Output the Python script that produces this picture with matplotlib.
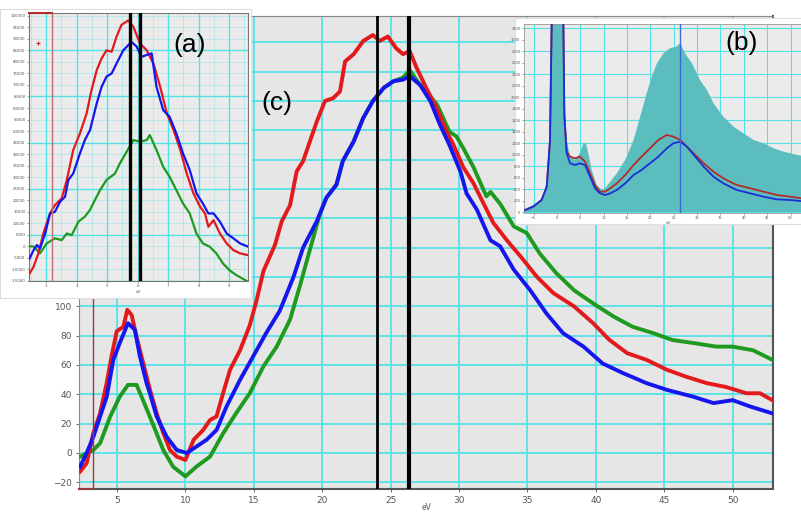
import matplotlib
matplotlib.use("Agg")
import matplotlib.pyplot as plt
import numpy as np

W, H = 801, 512

# ---- main panel (c): three spectra ----
red_ev = [2.3, 2.78, 3.27, 3.76, 4.25, 4.6, 4.98, 5.46, 5.75, 6.07, 6.43, 6.92, 7.41, 7.9, 8.38,
          8.87, 9.36, 10.0, 10.6, 11.3, 11.8, 12.27, 12.76, 13.26, 13.99, 14.7, 15.2, 15.7, 16.55,
          17.04, 17.65, 18.13, 18.6, 19.1, 19.6, 20.2, 20.8, 21.3, 21.67, 22.3, 23.0, 23.7, 24.2,
          24.8, 25.4, 25.9, 26.4, 26.9, 27.6, 28.37, 29.1, 29.6, 30.3, 31.05, 31.8, 32.5, 33.5,
          34.5, 35.7, 36.9, 38.4, 39.8, 41.0, 42.3, 43.7, 45.2, 46.6, 48.1, 49.5, 51.0, 52.0, 52.9]
red_val = [-12.7, -7, 13.6, 27, 48, 66, 83, 86, 97.6, 94, 79, 61, 43, 27, 13.6,
           2, -2.5, -4.8, 9, 15.7, 22.5, 24.8, 41, 56.7, 70, 87, 104, 124, 142,
           158, 169, 192, 199, 212.5, 226, 240, 242, 246.6, 267, 272, 281, 285, 281,
           284, 276, 272, 274, 262.6, 249, 235, 219, 210, 195, 184, 170, 157, 145,
           134, 120, 109, 100, 88.5, 77, 68, 63.5, 56.7, 52, 47.6, 45, 40.7, 40.7, 36]

blue_ev = [2.3, 2.78, 3.27, 3.76, 4.25, 4.73, 5.2, 5.8, 6.3, 6.67, 7.16, 7.4, 7.9, 8.63, 9.36,
           10.1, 10.8, 11.55, 12.28, 13.0, 14.0, 14.96, 15.9, 16.9, 17.9, 18.6, 19.6, 20.3, 21.04,
           21.5, 22.3, 23.0, 23.7, 24.5, 25.2, 25.9, 26.4, 27.15, 27.9, 28.6, 29.3, 30.1, 30.55,
           31.3, 32.3, 33.0, 34.0, 35.2, 36.4, 37.6, 39.1, 40.5, 42.0, 43.7, 45.2, 47.1, 48.6,
           50.0, 51.3, 52.9]
blue_val = [-9.4, 0, 11, 24.8, 38.4, 63.5, 75, 88.5, 84, 66, 47.6, 40.7, 24.8, 11, 2,
            0, 4.3, 9, 15.7, 31.6, 50, 66, 81.7, 97, 120, 140, 158, 174, 183,
            199, 212.5, 228.5, 240, 249, 253.5, 254.6, 257, 251, 240, 224, 210, 192, 177,
            166, 145, 141, 125, 111, 95, 81.7, 72.5, 61, 54.4, 47.6, 43, 38.4, 34,
            36, 31.6, 27]

green_ev = [2.3, 3.27, 3.76, 4.5, 5.2, 5.8, 6.43, 6.9, 7.65, 8.38, 9.1, 10.0, 10.8, 11.8, 12.76,
            13.7, 14.7, 15.7, 16.67, 17.65, 18.4, 18.86, 19.8, 20.3, 21.04, 21.5, 22.3, 23.0, 23.7,
            24.5, 25.2, 25.9, 26.4, 27.0, 28.4, 29.3, 29.8, 30.3, 31.05, 32.0, 32.3, 33.0, 34.0,
            34.95, 35.9, 37.1, 38.4, 39.8, 41.3, 42.7, 44.2, 45.6, 47.1, 48.8, 50.0, 51.5, 52.9]
green_val = [-2.5, 2, 6.6, 24.8, 38.4, 46.4, 46.4, 36, 19, 2, -9.4, -16, -9.4, -2.5, 13.4,
             27, 40.7, 59, 72.5, 91, 115, 130.6, 162, 174, 183, 199, 212.5, 228.5, 240,
             249, 253.5, 256, 261, 253, 237.5, 219, 216, 208, 195, 175, 178, 170, 154.5,
             150, 136, 122.7, 111, 102, 93, 86, 81.7, 77, 75, 72.5, 72.5, 70, 63.5]

main_xticks = [5, 10, 15, 20, 25, 30, 35, 40, 45, 50]
main_yticks = list(range(-20, 300, 20))
main_marks = [23.97, 26.32]
main_marker_ev = 3.27

# ---- inset (a): zoom on the 3-10 eV peak ----
a_red_ev = [2.46, 2.59, 2.75, 2.91, 3.13, 3.29, 3.51, 3.68, 3.89, 4.11, 4.33, 4.49, 4.66, 4.82,
            4.98, 5.15, 5.31, 5.47, 5.69, 5.86, 6.08, 6.3, 6.52, 6.74, 6.96, 7.18, 7.4, 7.61,
            7.83, 8.05, 8.21, 8.32, 8.49, 8.7, 8.92, 9.14, 9.36, 9.62]
a_red_val = [-11700, -8800, -3000, 5600, 14300, 17900, 20800, 28800, 41800, 49000, 57700, 67800,
             76400, 81500, 85000, 84400, 90900, 96000, 98000, 95200, 88000, 85000, 79300, 69200,
             57700, 50400, 41800, 31600, 23000, 17200, 14300, 8500, 11400, 5600, 1300, -1600,
             -3000, -3800]
a_blue_ev = [2.46, 2.59, 2.7, 2.8, 2.97, 3.13, 3.29, 3.46, 3.62, 3.73, 3.89, 4.11, 4.27, 4.44,
             4.66, 4.82, 4.98, 5.15, 5.31, 5.53, 5.8, 5.97, 6.13, 6.3, 6.46, 6.62, 6.84, 7.05,
             7.27, 7.49, 7.71, 7.93, 8.14, 8.32, 8.49, 8.7, 8.92, 9.14, 9.36, 9.62]
a_blue_val = [-5200, -1600, 600, -900, 5600, 14300, 15000, 19400, 21500, 28800, 31600, 40300,
              46100, 50400, 62000, 69200, 73600, 75000, 79300, 85000, 88700, 86600, 82200, 83000,
              83700, 69200, 59100, 56200, 49000, 40300, 33100, 23000, 18600, 14300, 14300, 10700,
              5600, 3500, 1300, -100]
a_green_ev = [2.46, 2.59, 2.8, 3.02, 3.29, 3.51, 3.68, 3.84, 4.06, 4.27, 4.44, 4.6, 4.77, 4.98,
              5.26, 5.42, 5.64, 5.86, 6.08, 6.3, 6.4, 6.62, 6.84, 7.05, 7.27, 7.49, 7.71, 7.93,
              8.14, 8.36, 8.58, 8.8, 9.01, 9.23, 9.62]
a_green_val = [0, 0, -3000, 1300, 3500, 2700, 5600, 4900, 10700, 12900, 15800, 20100, 24400,
               28800, 31600, 36000, 41000, 46100, 45400, 46100, 48300, 41800, 34500, 30200,
               24400, 18600, 14300, 5600, 1300, -100, -3000, -7400, -10300, -12400, -15300]
a_marks = [5.75, 6.08]
a_marker_ev = 3.19
a_yticks = list(range(-15000, 100001, 5000))
a_xticks = [3, 4, 5, 6, 7, 8, 9]

# ---- inset (b): full spectrum, sum (teal fill) and two single spectra ----
b_sum_ev = [-7.2, -4.4, -2.9, -1.86, -1.4, -1.1, 0.0, 1.3, 1.6, 2.07, 2.8, 3.86, 4.9, 5.64,
            6.2, 6.7, 7.43, 8.5, 9.57, 10.3, 11.4, 12.8, 14.6, 16.4, 17.8, 19.2, 20.3, 21.4, 22.8,
            24.2, 25.6, 26.4, 27.4, 28.9, 30.6, 32.1, 33.5, 35.6, 37.8, 39.9, 42.1, 44.2, 46.4,
            48.5, 51.4, 54.5]
b_sum_val = [35, 151, 267, 673, 1400, 3400, 20000, 3400, 1950, 1253, 963, 905, 1020, 1195,
             1195, 1020, 731, 470, 383, 412, 528, 673, 905, 1253, 1659, 2065, 2355, 2587, 2761,
             2848, 2877, 2935, 2761, 2587, 2297, 2123, 1891, 1659, 1485, 1369, 1253, 1195, 1108,
             1050, 992, 950]
b_blue_ev = [-7.2, -5.1, -3.3, -2.2, -1.5, -1.14, 0.0, 1.36, 1.57, 2.07, 2.8, 3.86, 4.9, 6.0,
             7.07, 8.14, 9.2, 10.3, 11.4, 12.8, 14.6, 16.4, 18.1, 19.9, 21.7, 23.5, 24.9, 26.4,
             27.8, 29.6, 31.4, 33.5, 35.6, 38.5, 41.4, 44.2, 47.1, 49.9, 52.3, 54.5]
b_blue_val = [23, 93, 209, 441, 1253, 3300, 20000, 3300, 1659, 1020, 847, 818, 847, 818, 615,
              412, 325, 296, 325, 383, 499, 644, 731, 847, 963, 1108, 1195, 1224, 1137, 963,
              789, 615, 499, 383, 325, 267, 220, 209, 191, 180]
b_red_ev = [-7.2, -5.1, -3.3, -2.2, -1.5, -1.14, 0.0, 1.36, 1.57, 2.07, 2.8, 3.86, 4.9, 6.0,
            7.07, 8.14, 9.2, 10.3, 11.4, 12.8, 14.6, 16.4, 18.1, 19.9, 21.7, 23.5, 24.9, 26.4,
            27.8, 29.6, 31.4, 33.5, 35.6, 38.5, 41.4, 44.2, 47.1, 49.9, 52.3, 54.5]
b_red_val = [23, 93, 209, 441, 1253, 3300, 20000, 3300, 1700, 1050, 963, 934, 963, 876, 673,
             470, 354, 354, 412, 499, 644, 818, 963, 1108, 1253, 1340, 1311, 1253, 1137, 992,
             847, 702, 586, 470, 412, 354, 296, 267, 238, 225]
b_mark = 26.4
b_xticks = [-5, 0, 5, 10, 15, 20, 25, 30, 35, 40, 45, 50]
b_yticks = list(range(0, 3201, 200))

RED, BLUE, GREEN = "#e3191c", "#1515ee", "#1e9a1e"
CYAN = "#52e2e6"
BG = "#e6e6e6"
TICK_C = "#555555"


def px_rect(left, top, right, bottom):
    return [left / W, 1 - bottom / H, (right - left) / W, (bottom - top) / H]


def px_text(x, y, s, **kw):
    # position given in pixels from the top-left corner of the picture
    fig.text(x / W, 1 - y / H, s, **kw)


fig = plt.figure(figsize=(W / 100, H / 100), dpi=100)
fig.patch.set_facecolor("white")

# main panel
ax = fig.add_axes(px_rect(79, 16, 773, 489))
ax.set_facecolor(BG)
ax.set_xlim(2.22, 52.95)
ax.set_ylim(-24.6, 298)
ax.set_xticks(main_xticks)
ax.set_yticks(main_yticks)
for x in main_xticks:
    ax.axvline(x, color=CYAN, lw=1.3, zorder=1)
for y in main_yticks:
    ax.axhline(y, color=CYAN, lw=1.3, zorder=1)
ax.plot(green_ev, green_val, color=GREEN, lw=2.8, zorder=3)
ax.plot(red_ev, red_val, color=RED, lw=2.8, zorder=4)
ax.plot(blue_ev, blue_val, color=BLUE, lw=2.8, zorder=5)
ax.axvline(main_marks[0], color="black", lw=2.0, zorder=6)
ax.axvline(main_marks[1], color="black", lw=3.0, zorder=6)
ax.axvline(main_marker_ev, color="#9a3a3a", lw=1.0, zorder=6)
ax.plot([2.22, main_marker_ev], [-24.6, -24.6], color="#9a3a3a", lw=1.5, zorder=7, clip_on=False)
ax.tick_params(labelsize=6.5, colors=TICK_C, length=2, width=0.6, pad=3)
for side in ["left", "top"]:
    ax.spines[side].set_color("#8a8a8a")
for side in ["bottom", "right"]:
    ax.spines[side].set_color("#555555")
    ax.spines[side].set_linewidth(1.5)
px_text(427, 507, "eV", fontsize=5.5, color=TICK_C, ha="center", va="center")
px_text(277, 103, "(c)", fontsize=19, family="Liberation Sans", ha="center", va="center")

# inset (a)
pa = fig.add_axes(px_rect(0, 9, 251, 298))
pa.set_xticks([])
pa.set_yticks([])
pa.set_facecolor("white")
for s in pa.spines.values():
    s.set_color("#dddddd")

axa = fig.add_axes(px_rect(29, 13, 248, 281))
axa.set_facecolor("#ebebeb")
axa.set_xlim(2.44, 9.62)
axa.set_ylim(-15000, 101200)
axa.set_xticks(a_xticks)
axa.set_yticks(a_yticks)
axa.set_yticklabels([str(v) for v in a_yticks])
for y in a_yticks:
    strong = (y - 5000) % 20000 == 0
    axa.axhline(y, color=CYAN, lw=1.0 if strong else 0.5, alpha=1.0 if strong else 0.45, zorder=1)
for x in np.arange(2.5, 9.6, 0.5):
    strong = float(x).is_integer()
    axa.axvline(x, color=CYAN, lw=1.0 if strong else 0.5, alpha=1.0 if strong else 0.45, zorder=1)
axa.plot(a_green_ev, a_green_val, color=GREEN, lw=1.6, zorder=3)
axa.plot(a_red_ev, a_red_val, color=RED, lw=1.6, zorder=4)
axa.plot(a_blue_ev, a_blue_val, color=BLUE, lw=1.6, zorder=5)
for m in a_marks:
    axa.axvline(m, color="black", lw=2.4, zorder=6)
axa.axvline(a_marker_ev, color="#c07070", lw=1.0, zorder=6)
axa.plot([2.44, a_marker_ev], [101200, 101200], color="#b03030", lw=1.5, zorder=7, clip_on=False)
axa.plot([2.73], [88300], marker="+", color="#c03030", ms=3, mew=0.8, zorder=7)
axa.tick_params(labelsize=2.8, colors=TICK_C, length=1.5, width=0.4, pad=1)
axa.set_xlabel("eV", fontsize=3, color=TICK_C, labelpad=1)
for s in axa.spines.values():
    s.set_color("#777777")
    s.set_linewidth(0.8)
px_text(190, 45, "(a)", fontsize=19, family="Liberation Sans", ha="center", va="center")

# inset (b)
pb = fig.add_axes(px_rect(515, 18, 812, 224))
pb.set_xticks([])
pb.set_yticks([])
pb.set_facecolor("white")
for s in pb.spines.values():
    s.set_color("#dddddd")

axb = fig.add_axes(px_rect(524, 24, 812, 213))
axb.set_facecolor("#ebebeb")
axb.set_xlim(-7.07, 54.6)
axb.set_ylim(-17, 3270)
axb.set_xticks(b_xticks)
axb.set_yticks(b_yticks)
for x in b_xticks:
    axb.axvline(x, color=CYAN, lw=0.8, zorder=1)
for y in range(0, 3201, 400):
    axb.axhline(y, color=CYAN, lw=0.8, zorder=1)
axb.fill_between(b_sum_ev, 0, b_sum_val, color="#5bbdbd", lw=0, zorder=2)
axb.plot(b_red_ev, b_red_val, color="#b52a2a", lw=1.3, zorder=3)
axb.plot(b_blue_ev, b_blue_val, color="#1a2fd6", lw=1.3, zorder=4)
axb.axvline(b_mark, color="#3a6ad8", lw=1.0, zorder=5)
axb.tick_params(labelsize=2.6, colors=TICK_C, length=1.5, width=0.4, pad=1)
axb.set_xlabel("eV", fontsize=3, color=TICK_C, labelpad=0.5)
for s in axb.spines.values():
    s.set_color("#999999")
    s.set_linewidth(0.6)
px_text(742, 43, "(b)", fontsize=19, family="Liberation Sans", ha="center", va="center")

fig.savefig("out.png", dpi=100)
